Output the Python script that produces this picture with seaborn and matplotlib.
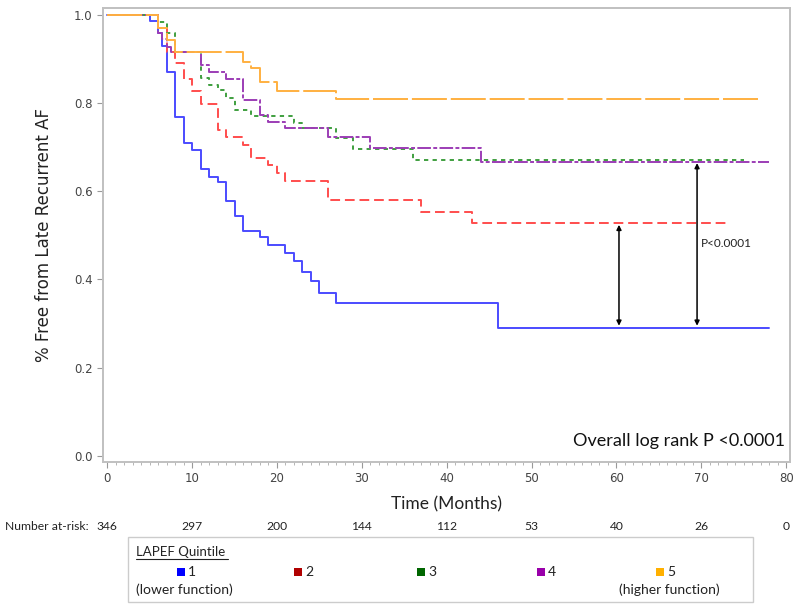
import matplotlib
matplotlib.use("Agg")
import matplotlib.pyplot as plt
from matplotlib.lines import Line2D
from matplotlib.patches import Rectangle
import seaborn as sns
import pandas as pd
import numpy as np

# ---- data ----
q1_t = [0, 5, 6, 6.5, 7, 8, 9, 10, 11, 12, 13, 14, 15, 16, 18, 19, 21, 22, 23, 24, 25, 27, 46, 78]
q1_s = [1.0, 0.987, 0.96, 0.93, 0.871, 0.769, 0.709, 0.694, 0.650, 0.633, 0.620, 0.577, 0.545,
        0.511, 0.497, 0.478, 0.460, 0.441, 0.418, 0.397, 0.370, 0.346, 0.290, 0.290]
q2_t = [0, 6, 7, 8, 9, 10, 11, 13, 14, 16, 17, 19, 20, 21, 26, 37, 43, 73]
q2_s = [1.0, 0.97, 0.915, 0.890, 0.855, 0.828, 0.798, 0.739, 0.724, 0.705, 0.675, 0.660, 0.641,
        0.624, 0.580, 0.554, 0.528, 0.528]
q3_t = [0, 6, 7, 8, 11, 12, 13, 14, 15, 17, 22, 23, 27, 29, 36, 75]
q3_s = [1.0, 0.985, 0.958, 0.915, 0.856, 0.841, 0.830, 0.811, 0.785, 0.771, 0.754, 0.743, 0.720,
        0.696, 0.671, 0.671]
q4_t = [0, 6, 6.5, 7, 7.5, 11, 12, 14, 16, 18, 19, 21, 26, 31, 44, 78]
q4_s = [1.0, 0.958, 0.945, 0.928, 0.915, 0.887, 0.871, 0.855, 0.807, 0.773, 0.758, 0.743, 0.7225,
        0.698, 0.667, 0.667]
q5_t = [0, 6, 7, 8, 16, 17, 18, 20, 27, 77]
q5_s = [1.0, 0.970, 0.943, 0.915, 0.894, 0.879, 0.849, 0.828, 0.809, 0.809]

quintiles = ["1", "2", "3", "4", "5"]
risk_times = [0, 10, 20, 30, 40, 50, 60, 70, 80]
at_risk = [346, 297, 200, 144, 112, 53, 40, 26, 0]

line_colors = ["#4b4bff", "#ff4d4d", "#3f9f3f", "#9c3db5", "#ffb040"]
legend_colors = ["#0000ff", "#b00000", "#006600", "#9900aa", "#ffb000"]
line_styles = ["-", (0, (5, 2.5)), (0, (2.2, 2.2)), (0, (7, 1.2, 2, 1.2)), (0, (18, 2))]

series = [(q1_t, q1_s), (q2_t, q2_s), (q3_t, q3_s), (q4_t, q4_s), (q5_t, q5_s)]

sns.set_theme(style="white")
plt.rcParams["font.family"] = ["DejaVu Sans"]

fig = plt.figure(figsize=(8, 6.1), dpi=100)
ax = fig.add_axes([0.129, 0.243, 0.8585, 0.744])

for q, (t, s), c, ls in zip(quintiles, series, line_colors, line_styles):
    df = pd.DataFrame({"time": t, "surv": s})
    sns.lineplot(data=df, x="time", y="surv", ax=ax, color=c, linestyle=ls,
                 drawstyle="steps-post", estimator=None, linewidth=1.4, legend=False)

ax.set_xlim(-0.47, 80.45)
ax.set_ylim(-0.0136, 1.016)
ax.set_xticks(np.arange(0, 81, 10))
ax.set_xticks(np.arange(0, 81, 1), minor=True)
ax.set_yticks([0.0, 0.2, 0.4, 0.6, 0.8, 1.0])
ax.set_yticklabels(["0.0", "0.2", "0.4", "0.6", "0.8", "1.0"])
ax.tick_params(axis="both", which="major", direction="out", length=4, width=0.8,
               color="#999999", labelsize=8.5, labelcolor="#444444", bottom=True, left=True)
ax.tick_params(axis="x", which="minor", direction="out", length=2.5, width=0.6,
               color="#aaaaaa", bottom=True)
for sp in ax.spines.values():
    sp.set_color("#c0c0c0")
    sp.set_linewidth(1.4)

ax.set_ylabel("% Free from Late Recurrent AF", fontsize=12, color="#222222", labelpad=15)
ax.set_xlabel("Time (Months)", fontsize=12.5, family="Lato", color="#222222", labelpad=8)

# arrows
ax.annotate("", xy=(60.3, 0.295), xytext=(60.3, 0.524),
            arrowprops=dict(arrowstyle="<|-|>", color="black", lw=1.1, mutation_scale=7,
                            shrinkA=0, shrinkB=0))
ax.annotate("", xy=(69.5, 0.295), xytext=(69.5, 0.664),
            arrowprops=dict(arrowstyle="<|-|>", color="black", lw=1.1, mutation_scale=7,
                            shrinkA=0, shrinkB=0))
ax.text(70.0, 0.482, "P<0.0001", fontsize=8.5, family="Lato", va="center", ha="left",
        color="#222222")
ax.text(79.9, 0.015, "Overall log rank P <0.0001", fontsize=13, family="Lato",
        ha="right", va="bottom", color="#111111")

# number at risk
yr = 1 - 527 / 610
fig.text(5 / 800, yr, "Number at-risk:", fontsize=8.7, family="Lato", va="center",
         ha="left", color="#222222")
trans = matplotlib.transforms.blended_transform_factory(ax.transData, fig.transFigure)
for tt, n in zip(risk_times, at_risk):
    ax.text(tt, yr, str(n), transform=trans, fontsize=8.7, family="Lato",
            ha="center", va="center", color="#222222", clip_on=False)

# legend box
def fx(px):
    return px / 800

def fy(py):
    return 1 - py / 610

fig.patches.append(Rectangle((fx(128), fy(602)), fx(753) - fx(128), fy(537) - fy(602),
                             transform=fig.transFigure, fill=False, edgecolor="#cccccc",
                             linewidth=1.0))
fig.text(fx(136), fy(552), "LAPEF Quintile", fontsize=9.5, family="Lato",
         va="center", ha="left", color="#222222")
fig.lines.append(Line2D([fx(136), fx(228)], [fy(559), fy(559)], transform=fig.transFigure,
                        color="#222222", linewidth=0.8))
sq_x = [181, 298, 421, 541, 660]
for q, c, x in zip(quintiles, legend_colors, sq_x):
    fig.patches.append(Rectangle((fx(x - 4), fy(576)), fx(8), 8 / 610,
                                 transform=fig.transFigure, facecolor=c, edgecolor="none"))
    fig.text(fx(x + 7), fy(572), q, fontsize=10, family="Lato", va="center",
             ha="left", color="#222222")
fig.text(fx(136), fy(590), "(lower function)", fontsize=10, family="Lato",
         va="center", ha="left", color="#222222")
fig.text(fx(720), fy(590), "(higher function)", fontsize=10, family="Lato",
         va="center", ha="right", color="#222222")

fig.savefig("out.png", dpi=100)
